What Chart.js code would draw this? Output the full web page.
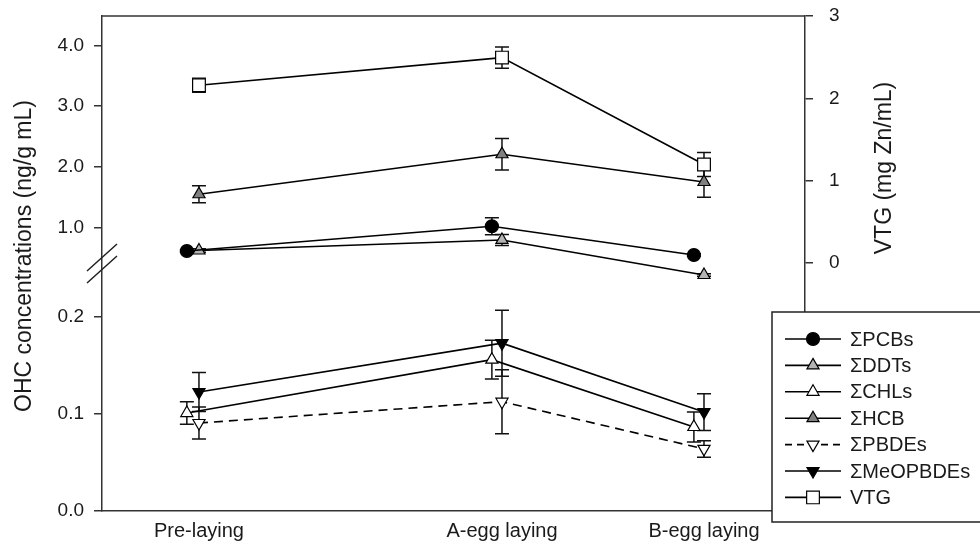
<!DOCTYPE html>
<html>
<head>
<meta charset="utf-8">
<script src="https://cdn.jsdelivr.net/npm/chart.js@4/dist/chart.umd.min.js"></script>
<style>
  html, body { margin: 0; padding: 0; background: #fff; }
  #wrap { width: 980px; height: 547px; }
</style>
</head>
<body>
<div id="wrap"><canvas id="chart" width="980" height="547"></canvas></div>
<script>
// sampling stages (x is a linear axis, the stages are not evenly spaced)
var stages = ['Pre-laying', 'A-egg laying', 'B-egg laying'];
var stageX = [0, 3, 5];
var stageXLeft = [-0.12, 2.9, 4.9];   // PCB and CHL points are nudged left

// upper part of the broken left axis (ng/g mL)
var pcb = [0.612, 1.02, 0.546];
var pcbErr = [0.02, 0.14, 0.02];
var ddt = [0.62, 0.794, 0.216];
var ddtErr = [0.03, 0.09, 0.02];
var hcb = [1.548, 2.208, 1.75];
var hcbErr = [0.14, 0.26, 0.25];

// lower part of the broken left axis (ng/g mL)
var chl = [0.101, 0.156, 0.0866];
var chlErr = [0.0115, 0.02, 0.0155];
var pbde = [0.0907, 0.1127, 0.064];
var pbdeErr = [0.0165, 0.033, 0.0085];
var meopbde = [0.1227, 0.173, 0.102];
var meopbdeErr = [0.02, 0.034, 0.019];

// right axis (mg Zn/mL)
var vtg = [2.16, 2.495, 1.197];
var vtgErr = [0.085, 0.13, 0.145];

// axis ticks
var lowTicks = [0, 0.1, 0.2];
var highTicks = [1, 2, 3, 4];
var vtgTicks = [0, 1, 2, 3];

// axis ranges, chosen so the two left segments line up like the original
var lowRange = [0, 0.5103];
var highRange = [-3.676, 4.488];
var vtgRange = [-3.01, 3];
var xRange = [-0.96, 6];

var FONT = "'Liberation Sans', Arial, Helvetica, sans-serif";
var INK = '#1a1a1a';
var AXIS = '#333';

function pts(xs, ys) {
  return xs.map(function(x, i) { return {x: x, y: ys[i]}; });
}

// left tick values live on the upper scale; lower ticks are converted onto it
var leftTickVals = [];
var leftTickLabels = [];
lowTicks.forEach(function(v) {
  var f = (v - lowRange[0]) / (lowRange[1] - lowRange[0]);
  leftTickVals.push(highRange[0] + f * (highRange[1] - highRange[0]));
  leftTickLabels.push(v.toFixed(1));
});
highTicks.forEach(function(v) {
  leftTickVals.push(v);
  leftTickLabels.push(v.toFixed(1));
});

var datasets = [
  {label: '\u03A3PCBs', data: pts(stageXLeft, pcb), errors: pcbErr, yAxisID: 'y',
   pointStyle: 'circle', pointRadius: 6.5, backgroundColor: '#000'},
  {label: '\u03A3DDTs', data: pts(stageX, ddt), errors: ddtErr, yAxisID: 'y',
   pointStyle: 'triangle', pointRadius: 7, backgroundColor: '#b4b4b4'},
  {label: '\u03A3CHLs', data: pts(stageXLeft, chl), errors: chlErr, yAxisID: 'yLow',
   pointStyle: 'triangle', pointRadius: 7, backgroundColor: '#fff'},
  {label: '\u03A3HCB', data: pts(stageX, hcb), errors: hcbErr, yAxisID: 'y',
   pointStyle: 'triangle', pointRadius: 7, backgroundColor: '#808080'},
  {label: '\u03A3PBDEs', data: pts(stageX, pbde), errors: pbdeErr, yAxisID: 'yLow',
   pointStyle: 'triangle', pointRotation: 180, pointRadius: 7, backgroundColor: '#fff',
   borderDash: [9, 6]},
  {label: '\u03A3MeOPBDEs', data: pts(stageX, meopbde), errors: meopbdeErr, yAxisID: 'yLow',
   pointStyle: 'triangle', pointRotation: 180, pointRadius: 7, backgroundColor: '#000'},
  {label: 'VTG', data: pts(stageX, vtg), errors: vtgErr, yAxisID: 'y2',
   pointStyle: 'rect', pointRadius: 9, backgroundColor: '#fff'}
];
datasets.forEach(function(ds) {
  ds.borderColor = '#000';
  ds.borderWidth = 1.6;
  ds.pointBorderColor = '#000';
  ds.pointBorderWidth = 1.2;
  ds.pointBackgroundColor = ds.backgroundColor;
  ds.pointHoverRadius = ds.pointRadius;
  ds.fill = false;
  ds.tension = 0;
});

var errorBars = {
  id: 'errorBars',
  beforeDatasetsDraw: function(chart) {
    var ctx = chart.ctx;
    chart.data.datasets.forEach(function(ds, i) {
      var meta = chart.getDatasetMeta(i);
      var scale = chart.scales[ds.yAxisID];
      ctx.save();
      ctx.strokeStyle = '#111';
      ctx.lineWidth = 1.5;
      meta.data.forEach(function(pt, j) {
        var v = ds.data[j].y, e = ds.errors[j];
        var top = scale.getPixelForValue(v + e);
        var bot = scale.getPixelForValue(v - e);
        ctx.beginPath();
        ctx.moveTo(pt.x, top); ctx.lineTo(pt.x, bot);
        ctx.moveTo(pt.x - 7, top); ctx.lineTo(pt.x + 7, top);
        ctx.moveTo(pt.x - 7, bot); ctx.lineTo(pt.x + 7, bot);
        ctx.stroke();
      });
      ctx.restore();
    });
  }
};

function drawMarker(ctx, ds, x, y) {
  var r = ds.pointRadius;
  ctx.beginPath();
  if (ds.pointStyle === 'circle') {
    ctx.arc(x, y, r, 0, Math.PI * 2);
  } else if (ds.pointStyle === 'rect') {
    var s = r * Math.SQRT1_2;
    ctx.rect(x - s, y - s, 2 * s, 2 * s);
  } else {
    var a = (ds.pointRotation || 0) * Math.PI / 180;
    for (var k = 0; k < 3; k++) {
      var t = a + k * 2 * Math.PI / 3;
      ctx.lineTo(x + Math.sin(t) * r, y - Math.cos(t) * r);
    }
    ctx.closePath();
  }
  ctx.fillStyle = ds.backgroundColor;
  ctx.fill();
  ctx.lineWidth = 1.2;
  ctx.strokeStyle = '#000';
  ctx.stroke();
}

var decor = {
  id: 'decor',
  afterDraw: function(chart) {
    var ctx = chart.ctx;
    var area = chart.chartArea;
    ctx.save();

    // top frame line
    ctx.strokeStyle = AXIS;
    ctx.lineWidth = 1.5;
    ctx.beginPath();
    ctx.moveTo(area.left, area.top);
    ctx.lineTo(area.right, area.top);
    ctx.stroke();

    // axis break marks
    ctx.strokeStyle = '#222';
    ctx.lineWidth = 1.5;
    ctx.beginPath();
    ctx.moveTo(area.left - 15, 271); ctx.lineTo(area.left + 15, 244);
    ctx.moveTo(area.left - 15, 283); ctx.lineTo(area.left + 15, 256);
    ctx.stroke();

    // axis titles, both reading bottom to top
    ctx.fillStyle = INK;
    ctx.font = '23px ' + FONT;
    ctx.textAlign = 'center';
    ctx.textBaseline = 'middle';
    ctx.save();
    ctx.translate(25, 256);
    ctx.rotate(-Math.PI / 2);
    ctx.fillText('OHC concentrations (ng/g mL)', 0, 0);
    ctx.restore();
    ctx.save();
    ctx.translate(885, 168);
    ctx.rotate(-Math.PI / 2);
    ctx.fillText('VTG (mg Zn/mL)', 0, 0);
    ctx.restore();

    // legend box
    ctx.fillStyle = '#fff';
    ctx.fillRect(772, 312, 230, 210);
    ctx.strokeStyle = '#222';
    ctx.lineWidth = 1.5;
    ctx.strokeRect(772, 312, 230, 210);

    chart.data.datasets.forEach(function(ds, i) {
      var y = 339 + i * 26.4;
      ctx.strokeStyle = '#000';
      ctx.lineWidth = 1.6;
      ctx.setLineDash(ds.borderDash ? [7, 5] : []);
      ctx.beginPath();
      ctx.moveTo(785, y);
      ctx.lineTo(841, y);
      ctx.stroke();
      ctx.setLineDash([]);
      drawMarker(ctx, ds, 813, y);
      ctx.fillStyle = INK;
      ctx.font = '20px ' + FONT;
      ctx.textAlign = 'left';
      ctx.textBaseline = 'middle';
      ctx.fillText(ds.label, 850, y + 1);
    });
    ctx.restore();
  }
};

// fixed axis sizes so the plot box lands where the original has it
function fixVertical(width) {
  return function(scale) {
    scale.width = width;
    scale.paddingTop = 0;
    scale.paddingBottom = 0;
  };
}

new Chart(document.getElementById('chart'), {
  type: 'line',
  data: {datasets: datasets},
  plugins: [errorBars, decor],
  options: {
    responsive: false,
    animation: false,
    devicePixelRatio: 1,
    layout: {padding: {top: 16, left: 0, right: 0, bottom: 0}},
    plugins: {legend: {display: false}, tooltip: {enabled: false}},
    scales: {
      x: {
        type: 'linear',
        min: xRange[0],
        max: xRange[1],
        afterBuildTicks: function(scale) {
          scale.ticks = stageX.map(function(v) { return {value: v}; });
        },
        afterFit: function(scale) {
          scale.height = 36;
          scale.paddingLeft = 0;
          scale.paddingRight = 0;
        },
        ticks: {
          autoSkip: false,
          maxRotation: 0,
          padding: 8,
          color: INK,
          font: {family: FONT, size: 20},
          callback: function(value, index) { return stages[index]; }
        },
        grid: {display: true, drawOnChartArea: false, drawTicks: false},
        border: {display: true, color: AXIS, width: 1.5}
      },
      y: {
        type: 'linear',
        position: 'left',
        min: highRange[0],
        max: highRange[1],
        afterBuildTicks: function(scale) {
          scale.ticks = leftTickVals.map(function(v) { return {value: v}; });
        },
        afterFit: fixVertical(102),
        ticks: {
          autoSkip: false,
          padding: 10,
          color: INK,
          font: {family: FONT, size: 19},
          callback: function(value, index) { return leftTickLabels[index]; }
        },
        grid: {display: true, drawOnChartArea: false, drawTicks: true,
               tickLength: 8, color: AXIS, lineWidth: 1.5},
        border: {display: true, color: AXIS, width: 1.5}
      },
      yLow: {
        type: 'linear',
        position: 'left',
        display: false,
        min: lowRange[0],
        max: lowRange[1]
      },
      y2: {
        type: 'linear',
        position: 'right',
        min: vtgRange[0],
        max: vtgRange[1],
        afterBuildTicks: function(scale) {
          scale.ticks = vtgTicks.map(function(v) { return {value: v}; });
        },
        afterFit: fixVertical(175),
        ticks: {
          autoSkip: false,
          padding: 16,
          color: INK,
          font: {family: FONT, size: 19},
          callback: function(value) { return String(value); }
        },
        grid: {display: true, drawOnChartArea: false, drawTicks: true,
               tickLength: 8, color: AXIS, lineWidth: 1.5},
        border: {display: true, color: AXIS, width: 1.5}
      }
    }
  }
});
</script>
</body>
</html>
